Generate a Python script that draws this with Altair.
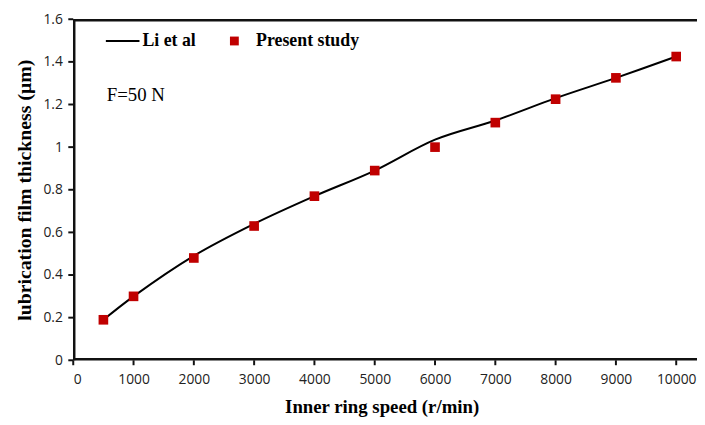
import altair as alt
import pandas as pd

speed = [500, 1000, 2000, 3000, 4000, 5000, 6000, 7000, 8000, 9000, 10000]
li_et_al = [0.19, 0.30, 0.49, 0.64, 0.77, 0.89, 1.035, 1.125, 1.23, 1.325, 1.425]
present = [0.19, 0.30, 0.48, 0.63, 0.77, 0.89, 1.00, 1.115, 1.225, 1.325, 1.425]
x_ticks = [0, 1000, 2000, 3000, 4000, 5000, 6000, 7000, 8000, 9000, 10000]
y_ticks = [0, 0.2, 0.4, 0.6, 0.8, 1.0, 1.2, 1.4, 1.6]

W, H = 624, 345
RED = "#C00000"
INK = "#111111"
SERIF = "Liberation Serif"
SANS = "Open Sans"

df = pd.DataFrame({"speed": speed, "li": li_et_al, "present": present})
xt = pd.DataFrame({"v": x_ticks})
yt = pd.DataFrame({"v": y_ticks})

xscale = alt.Scale(domain=[0, 10230], nice=False, zero=False)
yscale = alt.Scale(domain=[0, 1.6], nice=False)

x = alt.X("speed:Q", scale=xscale,
          axis=alt.Axis(values=x_ticks, title="Inner ring speed (r/min)",
                        grid=False, format="d", domain=False, ticks=False))
y = alt.Y("li:Q", scale=yscale,
          axis=alt.Axis(values=y_ticks, title="lubrication film thickness (μm)",
                        grid=False, domain=False, ticks=False,
                        labelExpr="datum.value == 0 ? '0' : format(datum.value, '.1~f')"))

line = alt.Chart(df).mark_line(color="black", strokeWidth=2, interpolate="catmull-rom").encode(x=x, y=y)
pts = alt.Chart(df).mark_square(color=RED, size=95, opacity=1).encode(
    x="speed:Q", y="present:Q")

one = pd.DataFrame({"k": [0]})
top = alt.Chart(one).mark_rule(color=INK, strokeWidth=2.5).encode(
    x=alt.value(0), x2=alt.value(W + 20), y=alt.value(1))
left = alt.Chart(one).mark_rule(color=INK, strokeWidth=2.5).encode(
    x=alt.value(1), x2=alt.value(1), y=alt.value(0), y2=alt.value(H))
bottom = alt.Chart(one).mark_rule(color=INK, strokeWidth=2.5).encode(
    x=alt.value(0), x2=alt.value(W + 20), y=alt.value(H - 1))
xtk = alt.Chart(xt).mark_rule(color=INK, strokeWidth=2).encode(
    x=alt.X("v:Q", scale=xscale), y=alt.value(H), y2=alt.value(H + 5))
ytk = alt.Chart(yt).mark_rule(color=INK, strokeWidth=2).encode(
    y=alt.Y("v:Q", scale=yscale), x=alt.value(-5), x2=alt.value(0))

leg_line = alt.Chart(one).mark_rule(color="black", strokeWidth=2).encode(
    x=alt.value(33), x2=alt.value(67), y=alt.value(22))
leg_t1 = alt.Chart(one).mark_text(align="left", baseline="middle", font=SERIF,
                                  fontWeight="bold", fontSize=18, color="black").encode(
    x=alt.value(70), y=alt.value(22), text=alt.value("Li et al"))
leg_sq = alt.Chart(one).mark_square(color=RED, size=80, opacity=1).encode(
    x=alt.value(163), y=alt.value(22))
leg_t2 = alt.Chart(one).mark_text(align="left", baseline="middle", font=SERIF,
                                  fontWeight="bold", fontSize=18, color="black").encode(
    x=alt.value(185), y=alt.value(22), text=alt.value("Present study"))
ftxt = alt.Chart(one).mark_text(align="left", baseline="middle", font=SERIF,
                                fontSize=19, color="black").encode(
    x=alt.value(34), y=alt.value(77), text=alt.value("F=50 N"))

chart = alt.layer(line, pts, top, left, bottom, xtk, ytk,
                  leg_line, leg_t1, leg_sq, leg_t2, ftxt).properties(
    width=W, height=H,
    autosize=alt.AutoSizeParams(type="none"),
    padding={"left": 66, "top": 9, "right": 7, "bottom": 55},
).configure_view(strokeWidth=0).configure_axis(
    labelFont=SANS, labelFontSize=14, labelColor="#222222",
    titleFont=SERIF, titleFontSize=19, titleFontWeight="bold", titleColor="black",
).configure_axisX(labelPadding=12, titlePadding=12).configure_axisY(
    labelPadding=11, titlePadding=9, titleFontSize=20)

chart.save("out.html", embed_options={"renderer": "svg", "actions": False})
